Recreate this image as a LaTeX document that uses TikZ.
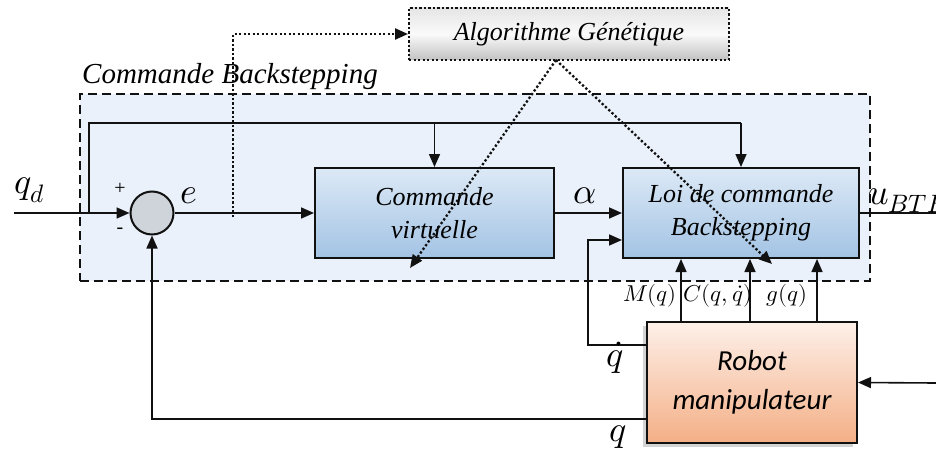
\documentclass[tikz,border=0pt]{standalone}
\usepackage{fontspec}
\usepackage{unicode-math}
\setmainfont{Liberation Serif}
\setmathfont{Latin Modern Math}
\newfontfamily\robotfont{Carlito}
\usetikzlibrary{arrows.meta,shadows,calc}
\definecolor{cbfill}{HTML}{EAF1FA}
\definecolor{bluetop}{HTML}{DCE9F6}
\definecolor{bluebot}{HTML}{A3C3E4}
\definecolor{orgtop}{HTML}{FDF0E9}
\definecolor{orgbot}{HTML}{F4AF86}
\definecolor{sumfill}{HTML}{CFD3DA}
\definecolor{ink}{HTML}{111111}
\begin{document}
\begin{tikzpicture}[x=1pt,y=-1pt,
  tip/.style={-{Triangle[length=13pt,width=11pt]}},
  line/.style={draw=ink,line width=1.6pt},
  conn/.style={line,tip},
  dotline/.style={draw=ink,line width=2.3pt,dash pattern=on 2.3pt off 2.2pt},
  dotarrow/.style={dotline,tip},
  bluebox/.style={draw=ink,line width=2pt,top color=bluetop,bottom color=bluebot,
    align=center,font=\itshape\fontsize{26}{33}\selectfont,inner sep=0pt},
  lbl/.style={font=\fontsize{36}{40}\selectfont,inner sep=0pt},
  slbl/.style={font=\fontsize{23}{26}\selectfont,inner sep=0pt}]
\useasboundingbox (0,0) rectangle (936,452);
% container
\node[draw=ink,line width=2pt,dash pattern=on 9pt off 5pt,fill=cbfill,
  minimum width=790pt,minimum height=187pt,inner sep=0pt] (cb) at (475,187.5) {};
\node[anchor=base west,inner sep=0pt,font=\itshape\fontsize{29}{31}\selectfont] (cbl) at (82,83) {Commande Backstepping};
% blocks
\node[bluebox,minimum width=239pt,minimum height=90pt] (box1) at (434.5,213) {Commande\\virtuelle};
\node[bluebox,minimum width=236pt,minimum height=90pt] (box2) at (741,213) {Loi de commande\\Backstepping};
\node[draw=ink,line width=2pt,top color=orgtop,bottom color=orgbot,
  minimum width=210pt,minimum height=121pt,align=center,inner sep=0pt,
  font=\robotfont\itshape\fontsize{29}{39}\selectfont,
  drop shadow={shadow xshift=-4pt,shadow yshift=-4pt,opacity=0.35,fill=gray}] (robot) at (752,382.5) {Robot\\manipulateur};
\node[draw=ink,line width=2pt,dash pattern=on 2.3pt off 2.2pt,top color=white!90!black,
  bottom color=white!76!black,middle color=white!98!black,
  minimum width=320pt,minimum height=52pt,inner sep=0pt,
  font=\itshape\fontsize{26}{30}\selectfont] (ag) at (569,34) {Algorithme Génétique};
\node[draw=ink,line width=2pt,fill=sumfill,circle,minimum size=43pt,inner sep=0pt] (sum) at (152,213) {};
% coordinates
\coordinate (in) at (14,213);
\coordinate (br) at (89,213);
\coordinate (tl) at (89,123);
\coordinate (tr) at (box2.north |- tl);
\coordinate (uout) at (936,213);
\coordinate (qdot) at (647,345);
\coordinate (qd2) at (588,240);
\coordinate (qout) at (647,419);
\coordinate (rin) at (936,383);
\coordinate (eb) at (233,217);
\coordinate (ags) at (556,60);
\coordinate (ga) at (410,268);
\coordinate (gb) at (772,264);
% connectors
\draw[conn] (in) -- (sum.west);
\draw[line] (br) -- (tl) -- (tr);
\draw[conn] (tr) -- (box2.north);
\draw[conn] (box1.north |- tl) -- (box1.north);
\draw[conn] (sum.east) -- (box1.west);
\draw[conn] (box1.east) -- (box2.west);
\draw[line] (box2.east) -- (uout);
\draw[conn] (qdot) -- (qdot -| qd2) -- (qd2) -- (qd2 -| box2.west);
\draw[conn] (qout) -| (sum.south);
\draw[conn] (rin) -- (robot.east);
\draw[conn] ($(robot.north west)+(35,0)$) -- ($(box2.south west)+(59,0)$);
\draw[conn] ($(robot.north west)+(104,0)$) -- ($(box2.south west)+(128,0)$);
\draw[conn] ($(robot.north west)+(171,0)$) -- ($(box2.south west)+(195,0)$);
% dotted
\draw[dotarrow] (eb) |- (ag.west);
\draw[dotarrow] (ags) -- (ga);
\draw[dotarrow] (ags) -- (gb);
% labels
\node[lbl] (lqd) at (30,190) {$q_d$};
\node[font=\fontsize{20}{22}\selectfont,inner sep=0pt] (lp) at (120,189) {+};
\node[font=\fontsize{20}{22}\selectfont,inner sep=0pt] (lm) at (120,231) {-};
\node[lbl] (le) at (189,196) {$e$};
\node[lbl] (lal) at (585,196) {$\alpha$};
\node[lbl,anchor=base west] (lu) at (868,204) {$u_{BTE}$};
\node[slbl] (lM) at (650,296) {$M(q)$};
\node[slbl] (lC) at (718,296) {$C(q,\dot q)$};
\node[slbl] (lg) at (787,296) {$g(q)$};
\node[lbl] (lqdot) at (615,358) {$\dot q$};
\node[lbl] (lq) at (618,437) {$q$};
\end{tikzpicture}
\end{document}
